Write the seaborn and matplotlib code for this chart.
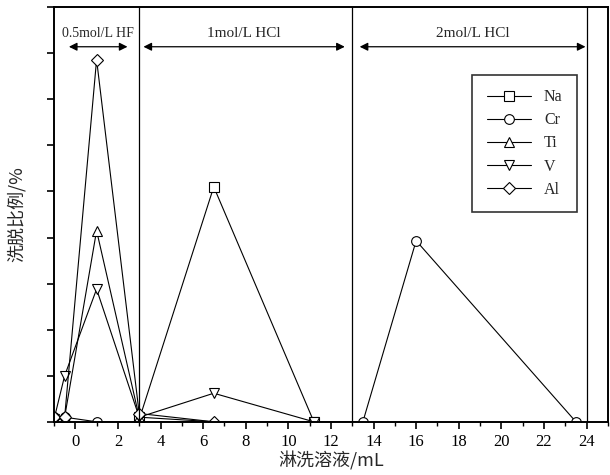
import matplotlib
matplotlib.use("Agg")
import matplotlib.pyplot as plt
import seaborn as sns
import pandas as pd
from matplotlib.ticker import MultipleLocator

sns.set_theme(style="ticks")
plt.rcParams["font.family"] = ["Liberation Serif", "Noto Sans CJK SC"]
plt.rcParams["axes.unicode_minus"] = False

# ── data ─────────────────────────────────────────────────────────────────────
na_x = [3, 6.5, 11.2]
na_y = [0.5, 51, 0]
cr_x = [-1, -0.5, 1, 13.5, 16, 23.5]
cr_y = [1, 1, 0, 0, 39.3, 0]
ti_x = [-1, -0.5, 1, 3, 6.5]
ti_y = [0, 1, 41.5, 1, 0]
v_x = [-1, -0.5, 1, 3, 6.5, 11.2]
v_y = [0.5, 10, 28.8, 1, 6.2, 0]
al_x = [-1, -0.5, 1, 3, 6.5]
al_y = [1, 1, 78.6, 1.8, 0]

series = [("Na", na_x, na_y, "s"), ("Cr", cr_x, cr_y, "o"),
          ("Ti", ti_x, ti_y, "^"), ("V", v_x, v_y, "v"),
          ("Al", al_x, al_y, "D")]

regions = ["0.5mol/L HF", "1mol/L HCl", "2mol/L HCl"]
region_bounds = [(-0.3, 2.45), (3.2, 12.65), (13.35, 23.95)]
region_fs = [10, 11, 11]
dividers = [3, 13, 24]

fig = plt.figure(figsize=(6.1, 4.75), dpi=100)
ax = fig.add_axes([0.0885, 0.112, 0.908, 0.873])

for name, xs, ys, mk in series:
    df = pd.DataFrame({"x": xs, "y": ys})
    sns.lineplot(data=df, x="x", y="y", ax=ax, sort=False, estimator=None,
                 color="black", lw=0.8, marker=mk,
                 markersize=7 if mk != "D" else 6,
                 markerfacecolor="white", markeredgecolor="black",
                 markeredgewidth=0.8, label=name)

for d in dividers:
    ax.axvline(d, color="black", lw=0.9)

for text, (x0, x1), fs in zip(regions, region_bounds, region_fs):
    ax.annotate("", xy=(x0, 81.4), xytext=(x1, 81.4),
                arrowprops=dict(arrowstyle="<|-|>", color="black", lw=0.9,
                                mutation_scale=12, shrinkA=0, shrinkB=0))
    ax.text((x0 + x1) / 2, 84.3, text, ha="center", va="center", fontsize=fs)

ax.set_xlim(-1, 25)
ax.set_ylim(0, 90)
ax.xaxis.set_major_locator(MultipleLocator(2))
ax.xaxis.set_minor_locator(MultipleLocator(1))
ax.yaxis.set_major_locator(MultipleLocator(10))
ax.set_yticklabels([])
ax.tick_params(axis="both", which="major", direction="out", length=5,
               width=1.2, labelsize=12, colors="black")
ax.tick_params(axis="x", which="minor", direction="out", length=3,
               width=1.0, bottom=True, colors="black")
for sp in ax.spines.values():
    sp.set_linewidth(1.4)
    sp.set_color("black")

ax.set_xlabel("淋洗溶液/mL", fontsize=13, labelpad=1, family="Noto Sans CJK SC")
ax.set_ylabel("洗脱比例/%", fontsize=13, family="Noto Sans CJK SC")
ax.yaxis.set_label_coords(-0.05, 0.5)

leg = ax.legend(loc="upper left", bbox_to_anchor=(0.755, 0.837),
                borderaxespad=0, fontsize=11.5, frameon=True, fancybox=False,
                edgecolor="black", handlelength=2.8, borderpad=0.9,
                labelspacing=0.45)
leg.get_frame().set_linewidth(1.2)

fig.savefig("out.png", dpi=100)
